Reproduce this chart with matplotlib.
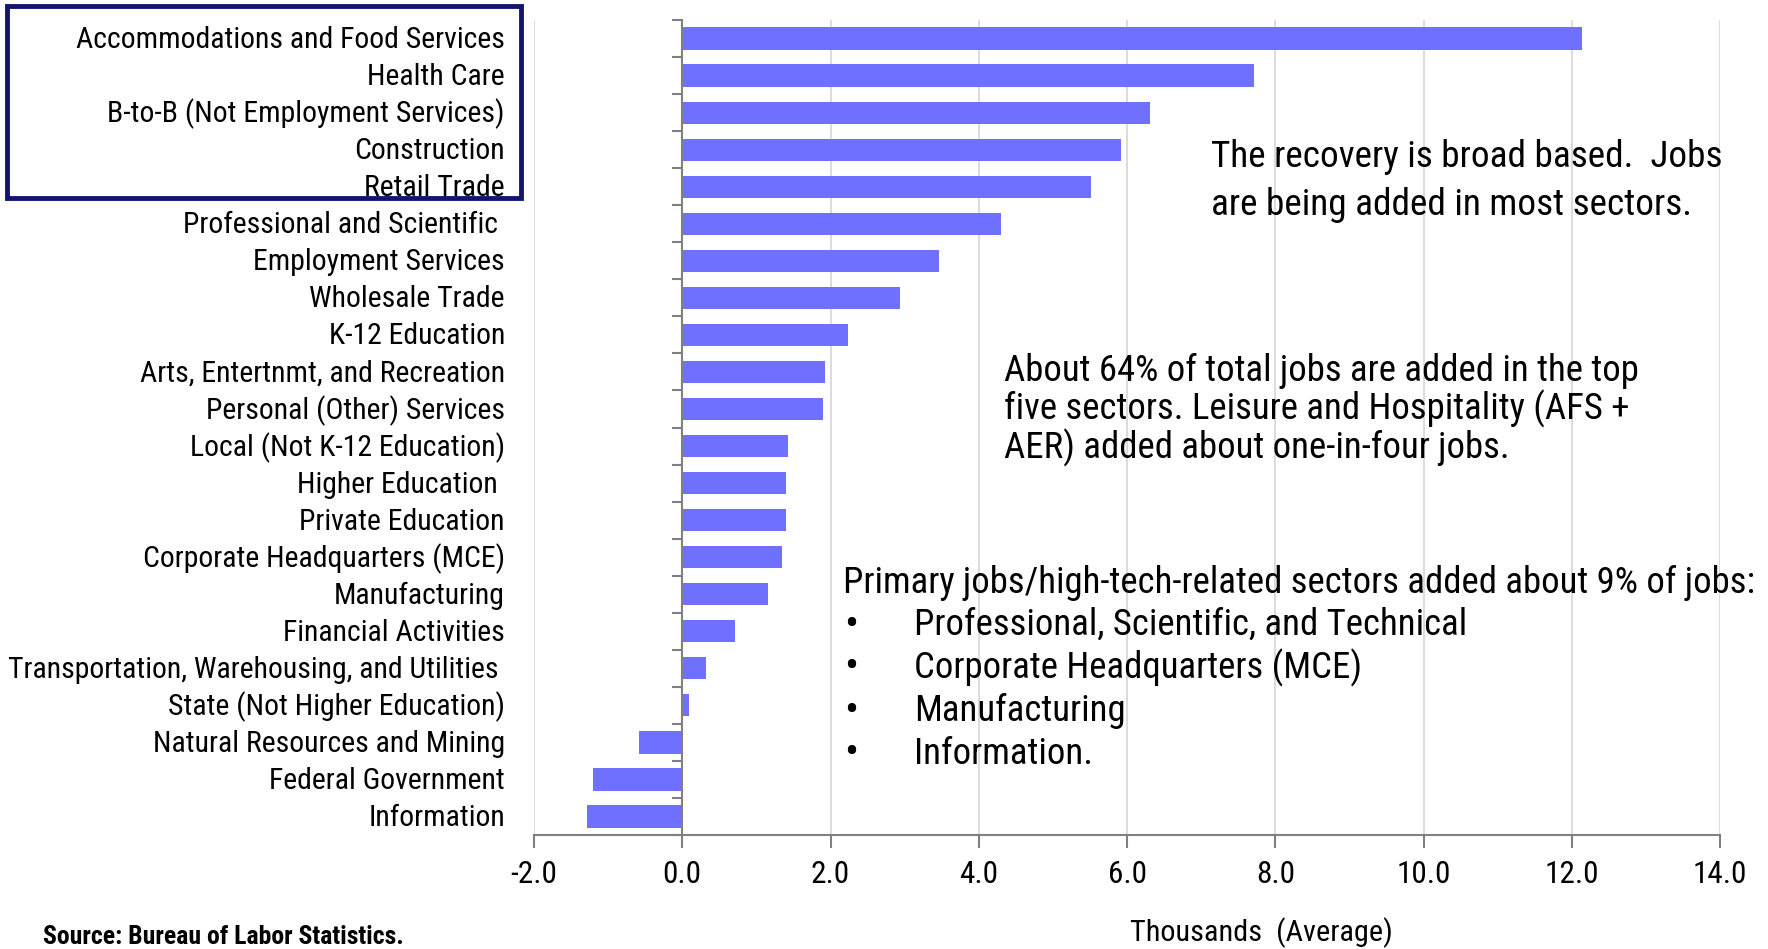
import matplotlib
matplotlib.use("Agg")
import matplotlib.pyplot as plt
from matplotlib.patches import Rectangle
from matplotlib.transforms import blended_transform_factory

plt.rcParams["font.family"] = ["Roboto Condensed", "DejaVu Sans"]

sectors = [
    "Accommodations and Food Services",
    "Health Care",
    "B-to-B (Not Employment Services)",
    "Construction",
    "Retail Trade",
    "Professional and Scientific ",
    "Employment Services",
    "Wholesale Trade",
    "K-12 Education",
    "Arts, Entertnmt, and Recreation",
    "Personal (Other) Services",
    "Local (Not K-12 Education)",
    "Higher Education ",
    "Private Education",
    "Corporate Headquarters (MCE)",
    "Manufacturing",
    "Financial Activities",
    "Transportation, Warehousing, and Utilities ",
    "State (Not Higher Education)",
    "Natural Resources and Mining",
    "Federal Government",
    "Information",
]
jobs_added = [12.14, 7.71, 6.31, 5.92, 5.52, 4.30, 3.46, 2.94, 2.24, 1.92, 1.90,
              1.43, 1.40, 1.40, 1.35, 1.16, 0.71, 0.32, 0.085, -0.58, -1.21, -1.28]
x_ticks = [-2.0, 0.0, 2.0, 4.0, 6.0, 8.0, 10.0, 12.0, 14.0]

note_top = "The recovery is broad based.  Jobs\nare being added in most sectors."
note_mid = ("About 64% of total jobs are added in the top\n"
            "five sectors. Leisure and Hospitality (AFS +\n"
            "AER) added about one-in-four jobs.")
note_head = "Primary jobs/high-tech-related sectors added about 9% of jobs:"
note_items = ["Professional, Scientific, and Technical",
              "Corporate Headquarters (MCE)",
              "Manufacturing",
              "Information."]

W, H = 1768, 949
fig = plt.figure(figsize=(W / 100, H / 100), dpi=100)
ax = fig.add_axes([534 / W, 1 - 835 / H, (1720 - 534) / W, (835 - 20) / H])

pos = list(range(len(sectors)))
ax.barh(pos, jobs_added, height=0.6, color="#7070ff", zorder=3)

ax.set_xlim(x_ticks[0], x_ticks[-1])
ax.set_ylim(len(sectors) - 0.5, -0.5)
ax.set_xticks(x_ticks)
ax.set_xticklabels([f"{v:.1f}" for v in x_ticks], fontsize=22.5)
ax.xaxis.grid(True, color="#d6d6d6", linewidth=1.2, zorder=0)

# y axis sits at zero, ticks between categories
ax.spines["left"].set_position(("data", 0))
ax.spines["left"].set_color("#808080")
ax.spines["left"].set_linewidth(1.5)
ax.spines["left"].set_zorder(4)
ax.spines["bottom"].set_color("#808080")
ax.spines["bottom"].set_linewidth(1.5)
ax.spines["top"].set_visible(False)
ax.spines["right"].set_visible(False)
ax.set_yticks([p - 0.5 for p in pos] + [len(sectors) - 0.5])
ax.set_yticklabels([])
ax.tick_params(axis="y", length=7, width=1.5, color="#808080")
ax.tick_params(axis="x", length=9, width=1.5, color="#808080", pad=9)

trans = blended_transform_factory(ax.transAxes, ax.transData)
for p, name in zip(pos, sectors):
    ax.text(-0.0245, p + 0.04, name, transform=trans, ha="right", va="center",
            fontsize=21.4)

fig.text(1261 / W, 1 - 933 / H, "Thousands  (Average)", fontsize=21.8,
         ha="center", va="center")
fig.text(43 / W, 1 - 937 / H, "Source: Bureau of Labor Statistics.", fontsize=18.5,
         fontweight="bold", va="center", ha="left")

fig.text(1211 / W, 1 - 181 / H, note_top, fontsize=26.8, va="center", ha="left",
         linespacing=1.42)
fig.text(1004 / W, 1 - 410 / H, note_mid, fontsize=26.5, va="center", ha="left",
         linespacing=1.03)
fig.text(843 / W, 1 - 583 / H, note_head, fontsize=26.5, va="center", ha="left")
for i, item in enumerate(note_items):
    y = 1 - (625 + i * 43) / H
    fig.text(851 / W, y, "\u2022", fontsize=30, va="center", ha="center")
    fig.text(914 / W, y, item, fontsize=26.5, va="center", ha="left")

fig.add_artist(Rectangle((7 / W, 1 - 198 / H), (521 - 7) / W, (198 - 6) / H,
                         transform=fig.transFigure, fill=False,
                         edgecolor="#14146e", linewidth=3.5))

fig.savefig("out.png", dpi=100)
